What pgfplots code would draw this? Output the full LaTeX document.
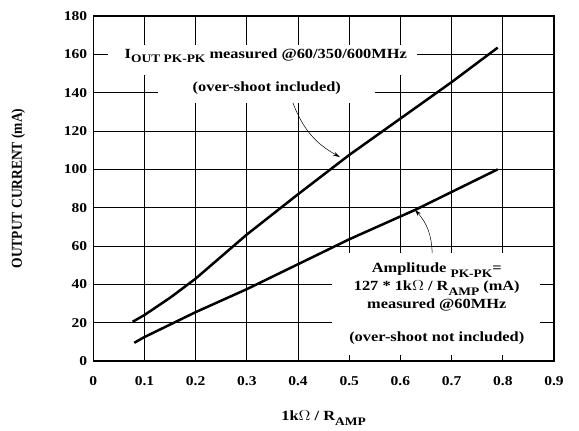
\documentclass[border=0pt]{standalone}
\usepackage{fontspec}
\setmainfont{Liberation Serif}
\usepackage{graphicx}
\usepackage{pgfplots}
\pgfplotsset{compat=1.18}
\usetikzlibrary{arrows.meta}
\newcommand{\sub}[1]{\raisebox{-4.5pt}{\fontsize{11.5}{13}\selectfont #1}}
\newcommand{\wide}[1]{\scalebox{1.17}[1]{#1}}
\newcommand{\txt}{\fontsize{14}{16}\selectfont\bfseries}

\begin{document}
\begin{tikzpicture}[x=1pt,y=1pt]
\path[use as bounding box] (0,0) rectangle (579,431);
\begin{axis}[
  at={(93.3pt,70pt)}, anchor=south west,
  scale only axis, width=460.7pt, height=345pt,
  xmin=0, xmax=0.9, ymin=0, ymax=180,
  xtick={0,0.1,0.2,0.3,0.4,0.5,0.6,0.7,0.8,0.9},
  ytick={0,20,40,60,80,100,120,140,160,180},
  major tick length=0pt,
  grid=major,
  grid style={black, line width=0.9pt},
  axis line style={line width=1.1pt},
  /pgf/number format/assume math mode=true,
  xticklabel style={/pgf/number format/fixed, /pgf/number format/precision=1, yshift=-12pt, xscale=1.15},
  yticklabel style={xshift=-2pt, xscale=1.15},
  tick label style={font=\fontsize{13.5}{15}\selectfont\bfseries},
  label style={font=\txt},
  xlabel={\wide{1k$\Omega$ / R\sub{AMP}}},
  ylabel={\scalebox{1}[1.12]{\fontsize{13.5}{15}\selectfont\bfseries OUTPUT CURRENT (mA)}},
  xlabel style={at={(axis description cs:0.5,-0.165)}, anchor=center},
  ylabel style={at={(axis description cs:-0.163,0.5)}, anchor=center},
]
\addplot[black, line width=2.5pt] coordinates {
  (0.077,20.5) (0.1,24) (0.15,33) (0.2,43) (0.25,54.5) (0.3,66)
  (0.4,87) (0.5,107.5) (0.6,126.5) (0.7,145.5) (0.79,163.5)
};
\addplot[black, line width=2.5pt] coordinates {
  (0.08,9.5) (0.1,12.5) (0.2,25.5) (0.3,37.5) (0.4,50.5)
  (0.5,63.5) (0.63,79) (0.79,100)
};
% white boxes behind the notes
\fill[white] (axis cs:0.029,149.2) rectangle (axis cs:0.632,164.8);
\fill[white] (axis cs:0.126,134.6) rectangle (axis cs:0.550,149.2);
\fill[white] (axis cs:0.466,3.1) rectangle (axis cs:0.872,56.3);
\begin{scope}[font=\txt]
\node[anchor=base] at (axis cs:0.337,158) {\wide{I\sub{OUT PK-PK} measured @60/350/600MHz}};
\node[anchor=base] at (axis cs:0.339,140.5) {\wide{(over-shoot included)}};
\node[anchor=base] at (axis cs:0.671,46.1) {\wide{Amplitude \sub{PK-PK}=}};
\node[anchor=base] at (axis cs:0.671,36.7) {\wide{127 * 1k$\Omega$ / R\sub{AMP} (mA)}};
\node[anchor=base] at (axis cs:0.671,27.5) {\wide{measured @60MHz}};
\node[anchor=base] at (axis cs:0.671,10.3) {\wide{(over-shoot not included)}};
\end{scope}
\draw[line width=0.5pt, -{Stealth[length=7pt,width=4pt]}] (axis cs:0.39,134.6) to[bend right=20] (axis cs:0.482,106.4);
\draw[line width=0.5pt, -{Stealth[length=7pt,width=4pt]}] (axis cs:0.662,56.3) to[bend right=20] (axis cs:0.628,79);
\end{axis}
\end{tikzpicture}
\end{document}
